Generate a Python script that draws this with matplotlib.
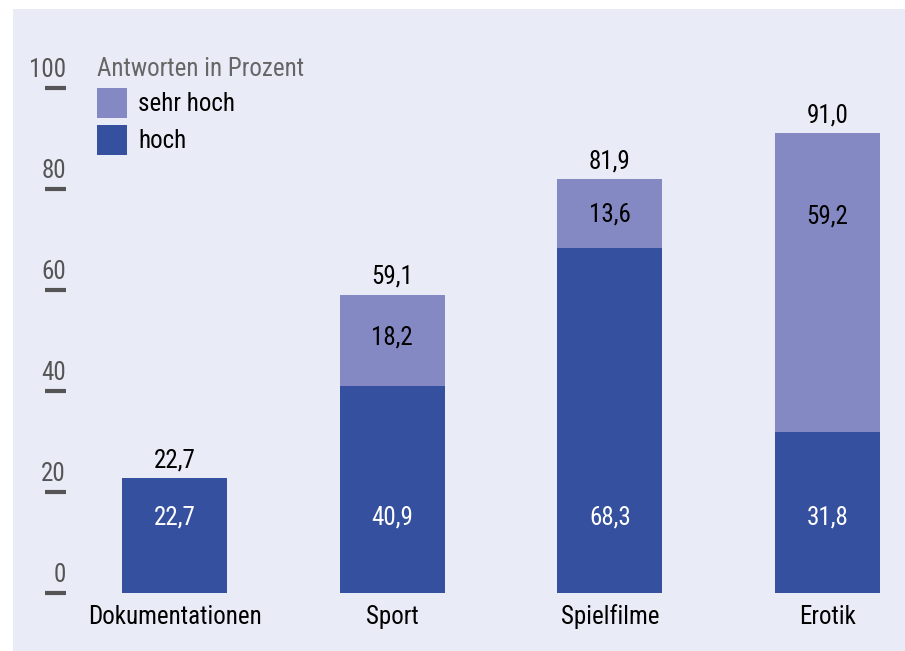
import matplotlib
matplotlib.use("Agg")
import matplotlib.pyplot as plt
from matplotlib.patches import Rectangle
from matplotlib.transforms import offset_copy, blended_transform_factory

plt.rcParams["font.family"] = ["Liberation Sans Narrow", "Roboto Condensed", "DejaVu Sans"]
plt.rcParams["font.stretch"] = "condensed"

categories = ["Dokumentationen", "Sport", "Spielfilme", "Erotik"]
hoch = [22.7, 40.9, 68.3, 31.8]
sehr_hoch = [0.0, 18.2, 13.6, 59.2]
totals = [22.7, 59.1, 81.9, 91.0]
yticks = [0, 20, 40, 60, 80, 100]
legend_title = "Antworten in Prozent"
legend_labels = ["sehr hoch", "hoch"]

# layout / style
W, H = 905, 651
BG = "#e9ecf6"
C_HOCH = "#34509f"
C_SEHR = "#8589c3"
FS = 18
hoch_label_y = 15
sehr_label_y = [None, 50.5, 75.0, 74.5]


def fmt(v):
	return f"{v:.1f}".replace(".", ",")


fig = plt.figure(figsize=(W / 100, H / 100), dpi=100)
fig.patch.set_facecolor("white")
fig.patches.append(Rectangle((13 / W, 0), 1 - 13 / W, 1 - 9 / H, transform=fig.transFigure,
	facecolor=BG, edgecolor="none", zorder=-5))

ax = fig.add_axes([66 / W, (H - 593) / H, (905 - 66) / W, 505 / H])
ax.set_facecolor("none")
ax.set_zorder(2)
for s in ax.spines.values():
	s.set_visible(False)

x = list(range(len(categories)))
ax.bar(x, hoch, width=0.482, color=C_HOCH, zorder=2)
ax.bar(x, sehr_hoch, bottom=hoch, width=0.482, color=C_SEHR, zorder=2)
ax.set_xlim(-0.4985, 3.356)
ax.set_ylim(0, 100)

ax.set_xticks([])
ax.set_yticks(yticks)
ax.tick_params(axis="y", direction="out", length=15, width=3, color="#555555", labelleft=False)

# tick labels sit above the dashes
tr = blended_transform_factory(ax.transAxes, ax.transData)
tr_up = offset_copy(tr, fig=fig, x=0, y=13, units="points")
for t in yticks:
	ax.text(0, t, str(t), transform=tr_up, ha="right", va="center", fontsize=FS, color="#555555")

for i in x:
	top_tr = offset_copy(ax.transData, fig=fig, x=0, y=13, units="points")
	ax.text(i, totals[i], fmt(totals[i]), transform=top_tr, ha="center", va="center",
		fontsize=FS, color="black")
	ax.text(i, hoch_label_y, fmt(hoch[i]), ha="center", va="center", fontsize=FS, color="white", zorder=3)
	if sehr_hoch[i] > 0:
		ax.text(i, sehr_label_y[i], fmt(sehr_hoch[i]), ha="center", va="center",
			fontsize=FS, color="black", zorder=3)
	cat_tr = offset_copy(ax.transData, fig=fig, x=0, y=-17, units="points")
	ax.text(i, 0, categories[i], transform=cat_tr, ha="center", va="center", fontsize=FS, color="black")

# legend
fig.text(97 / W, 1 - 69 / H, legend_title, ha="left", va="center", fontsize=FS, color="#666666")
for j, (lab, col) in enumerate(zip(legend_labels, [C_SEHR, C_HOCH])):
	y0 = 88 + j * 37
	fig.patches.append(Rectangle((97 / W, 1 - (y0 + 30) / H), 30 / W, 30 / H,
		transform=fig.transFigure, facecolor=col, edgecolor="none"))
	fig.text(138 / W, 1 - (y0 + 16) / H, lab, ha="left", va="center", fontsize=FS, color="black")

fig.savefig("out.png", dpi=100)
